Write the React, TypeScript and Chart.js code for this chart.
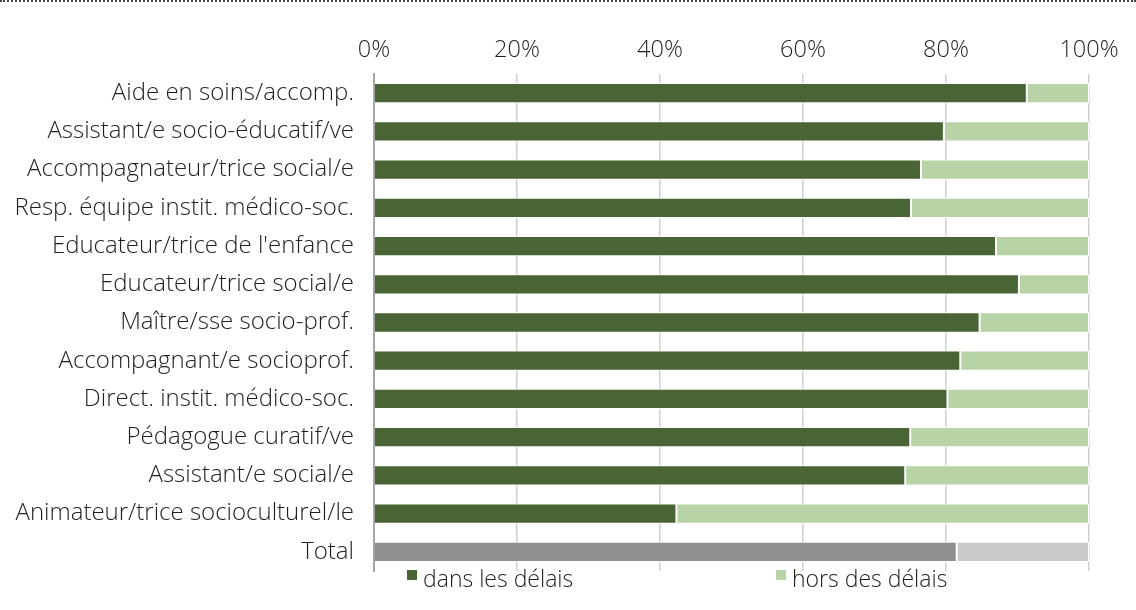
import React, { useEffect, useRef } from 'react';
import { Chart, registerables } from 'chart.js';
Chart.register(...registerables);

const categories = [
  'Aide en soins/accomp.',
  'Assistant/e socio-éducatif/ve',
  'Accompagnateur/trice social/e',
  'Resp. équipe instit. médico-soc.',
  "Educateur/trice de l'enfance",
  'Educateur/trice social/e',
  'Maître/sse socio-prof.',
  'Accompagnant/e socioprof.',
  'Direct. instit. médico-soc.',
  'Pédagogue curatif/ve',
  'Assistant/e social/e',
  'Animateur/trice socioculturel/le',
  'Total',
];
const onTime = [91.3, 79.7, 76.5, 75.1, 87.0, 90.2, 84.7, 82.0, 80.2, 75.0, 74.3, 42.3, 81.5];
const late = [8.7, 20.3, 23.5, 24.9, 13.0, 9.8, 15.3, 18.0, 19.8, 25.0, 25.7, 57.7, 18.5];
const seriesNames = ['dans les délais', 'hors des délais'];
const xTicks = [0, 20, 40, 60, 80, 100];

const DARK = '#4a6535';
const LIGHT = '#b8d4a6';
const TOTAL_DARK = '#8f8f8f';
const TOTAL_LIGHT = '#c9c9c9';
const FAMILY = '"Open Sans", sans-serif';
const TEXT = '#1f1f1f';

export default function App() {
  const ref = useRef<HTMLCanvasElement>(null);
  useEffect(() => {
    document.body.style.margin = '0';
    const last = categories.length - 1;
    const chart = new Chart(ref.current!, {
      type: 'bar',
      data: {
        labels: categories,
        datasets: [
          {
            label: seriesNames[0],
            data: onTime,
            backgroundColor: categories.map((_, i) => (i === last ? TOTAL_DARK : DARK)),
            borderColor: '#ffffff',
            borderWidth: 1,
            barPercentage: 0.53,
            categoryPercentage: 1,
          },
          {
            label: seriesNames[1],
            data: late,
            backgroundColor: categories.map((_, i) => (i === last ? TOTAL_LIGHT : LIGHT)),
            borderColor: '#ffffff',
            borderWidth: 1,
            borderSkipped: false,
            barPercentage: 0.53,
            categoryPercentage: 1,
          },
        ],
      },
      options: {
        indexAxis: 'y',
        responsive: false,
        animation: false,
        layout: { padding: { left: 0, right: 47, top: 0, bottom: 39 } },
        plugins: { legend: { display: false }, tooltip: { enabled: false } },
        scales: {
          x: {
            position: 'top',
            stacked: true,
            min: 0,
            max: 100,
            afterBuildTicks: (s: any) => {
              s.ticks = xTicks.map((v) => ({ value: v }));
            },
            ticks: {
              callback: (v: any) => v + '%',
              color: TEXT,
              font: { family: FAMILY, size: 23.5, weight: 300 as any },
              padding: 10,
              maxRotation: 0,
            },
            grid: { color: '#d0d0d0', lineWidth: 1.5, drawTicks: false },
            border: { display: false },
            afterFit: (s: any) => {
              s.height = 74;
            },
          },
          y: {
            stacked: true,
            grid: { display: false, drawTicks: false },
            border: { display: true, color: '#a6a6a6', width: 2 },
            ticks: {
              color: TEXT,
              font: { family: FAMILY, size: 24, weight: 300 as any },
              padding: 20,
              autoSkip: false,
            },
            afterFit: (s: any) => {
              s.width = 374;
            },
          },
        },
      },
    });
    return () => chart.destroy();
  }, []);

  const legendItems = [
    { name: seriesNames[0], color: DARK, box: 407, text: 423 },
    { name: seriesNames[1], color: LIGHT, box: 776, text: 792 },
  ];

  return (
    <div style={{ position: 'relative', width: 1136, height: 610, background: '#fff' }}>
      <div style={{ position: 'absolute', left: 0, top: 0, width: 1136, borderTop: '2px dotted #444' }} />
      <canvas ref={ref} width={1136} height={610} style={{ display: 'block' }} />
      {legendItems.map((it) => (
        <React.Fragment key={it.name}>
          <div style={{ position: 'absolute', left: it.box, top: 570, width: 10, height: 10, background: it.color }} />
          <div
            style={{
              position: 'absolute',
              left: it.text,
              top: 563,
              fontFamily: FAMILY,
              fontWeight: 300,
              fontSize: 23,
              color: TEXT,
              lineHeight: '30px',
              whiteSpace: 'nowrap',
            }}
          >
            {it.name}
          </div>
        </React.Fragment>
      ))}
    </div>
  );
}
